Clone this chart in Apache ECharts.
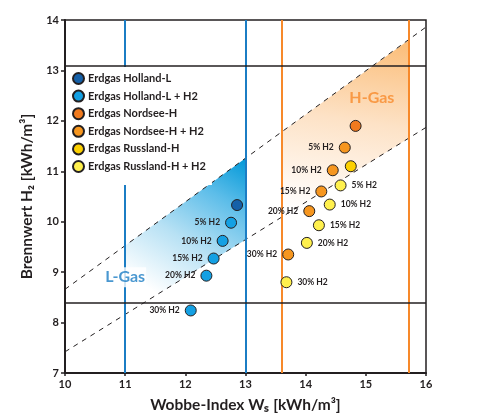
<!DOCTYPE html>
<html><head><meta charset="utf-8">
<script src="https://cdn.jsdelivr.net/npm/echarts@6/dist/echarts.min.js"></script>
<style>html,body{margin:0;padding:0;background:#fff}#c{width:481px;height:414px}</style>
</head><body><div id="c"></div>
<script>
// ---- data ----
var xTicks = [10, 11, 12, 13, 14, 15, 16];
var yTicks = [7, 8, 9, 10, 11, 12, 13, 14];
var h2Labels = ['5% H2', '10% H2', '15% H2', '20% H2', '30% H2'];
var hollandL = [[12.86, 10.33]];
var hollandLH2 = [[12.76, 9.98], [12.62, 9.62], [12.47, 9.27], [12.35, 8.93], [12.09, 8.24]];
var nordseeH = [[14.83, 11.90]];
var nordseeHH2 = [[14.65, 11.47], [14.45, 11.02], [14.26, 10.60], [14.06, 10.21], [13.71, 9.35]];
var russlandH = [[14.75, 11.10]];
var russlandHH2 = [[14.58, 10.72], [14.40, 10.34], [14.22, 9.93], [14.02, 9.58], [13.68, 8.80]];
var d075Line = [[10, 8.66], [16, 13.86]];
var d055Line = [[10, 7.42], [16, 11.87]];
var blueLimits = [11, 13];
var orangeLimits = [13.6, 15.72];
var hLimits = [8.4, 13.1];
var lGasRegion = [[11, 8.16], [13, 9.64], [13, 11.26], [11, 9.53]];
var hGasRegion = [[13.6, 10.09], [15.72, 11.66], [15.72, 13.61], [13.6, 11.78]];
var regionNames = ['L-Gas', 'H-Gas'];
var regionAnchors = [[11.0, 8.9], [15.1, 12.45]];
var seriesNames = ['Erdgas Holland-L', 'Erdgas Holland-L + H2', 'Erdgas Nordsee-H', 'Erdgas Nordsee-H + H2', 'Erdgas Russland-H', 'Erdgas Russland-H + H2'];

var FONT = 'Lato';
var chart = echarts.init(document.getElementById('c'), null, {renderer: 'canvas'});

function regionSeries(poly, dir, stops, z) {
  return {
    type: 'custom', silent: true, z: z, data: [0],
    renderItem: function (params, api) {
      var pts = poly.map(function (p) { return api.coord(p); });
      return {
        type: 'polygon',
        shape: {points: pts},
        style: {fill: new echarts.graphic.LinearGradient(dir[0], dir[1], dir[2], dir[3], stops), stroke: null}
      };
    }
  };
}

function labelled(arr) {
  return arr.map(function (p, i) { return {value: p, name: h2Labels[i]}; });
}

var pointLabel = function (pos) {
  return {show: true, position: pos, distance: 5, formatter: '{b}', fontFamily: FONT, fontWeight: 'bold', fontSize: 8.5, color: '#231f20'};
};

function scatter(name, data, color, label) {
  return {
    name: name, type: 'scatter', z: 6, symbol: 'circle', symbolSize: 11,
    itemStyle: {color: color, borderColor: '#231f20', borderWidth: 1, opacity: 1},
    label: label || {show: false},
    data: data
  };
}

var option = {
  animation: false,
  backgroundColor: '#fff',
  grid: {left: 65, right: 55, top: 20, bottom: 41, outerBoundsMode: 'none', containLabel: false, show: true, borderColor: '#231f20', borderWidth: 1.5, backgroundColor: 'transparent'},
  legend: {
    orient: 'vertical', left: 66, top: 67, z: 8,
    backgroundColor: '#fff', padding: [5, 6, 12, 6],
    itemWidth: 11, itemHeight: 11, itemGap: 4.6, icon: 'circle',
    data: seriesNames,
    textStyle: {fontFamily: FONT, fontWeight: 'bold', fontSize: 11, color: '#231f20', padding: [0, 0, 0, -1]}
  },
  xAxis: {
    type: 'value', min: 10, max: 16, interval: 1,
    name: 'Wobbe-Index Wₛ [kWh/m³]', nameLocation: 'middle', nameGap: 24,
    nameTextStyle: {fontFamily: FONT, fontWeight: 'bold', fontSize: 15.5, color: '#231f20'},
    axisLine: {lineStyle: {color: '#231f20', width: 2}},
    axisTick: {show: true, length: 3, lineStyle: {color: '#231f20', width: 1.5}},
    axisLabel: {fontFamily: FONT, fontWeight: 'bold', fontSize: 11, color: '#231f20', margin: 6,
      formatter: function (v) { return xTicks.indexOf(v) >= 0 ? String(v) : ''; }},
    splitLine: {show: false}
  },
  yAxis: {
    type: 'value', min: 7, max: 14, interval: 1,
    name: 'Brennwert H₂ [kWh/m³]', nameLocation: 'middle', nameGap: 30,
    nameTextStyle: {fontFamily: FONT, fontWeight: 'bold', fontSize: 15.5, color: '#231f20'},
    axisLine: {lineStyle: {color: '#231f20', width: 2}},
    axisTick: {show: true, length: 4, lineStyle: {color: '#231f20', width: 1.5}},
    axisLabel: {fontFamily: FONT, fontWeight: 'bold', fontSize: 11, color: '#231f20', margin: 6,
      formatter: function (v) { return yTicks.indexOf(v) >= 0 ? String(v) : ''; }},
    splitLine: {show: false}
  },
  series: [
    regionSeries(lGasRegion, [1, 0, 0.2, 1], [{offset: 0, color: '#0098d8'}, {offset: 0.25, color: '#5cbde9'}, {offset: 0.55, color: '#b7e1f4'}, {offset: 0.88, color: '#ffffff'}], 1),
    regionSeries(hGasRegion, [0.6, 0, 0.4, 1], [{offset: 0, color: '#fbbf7c'}, {offset: 0.45, color: '#fde2c6'}, {offset: 0.85, color: '#fff8f1'}, {offset: 1, color: '#ffffff'}], 1),
    {
      type: 'line', silent: true, z: 3, symbol: 'none', data: [],
      markLine: {
        silent: true, symbol: 'none', label: {show: false}, animation: false,
        data: blueLimits.map(function (v) { return {xAxis: v, lineStyle: {color: '#1b7dc4', width: 2, type: 'solid'}}; })
          .concat(orangeLimits.map(function (v) { return {xAxis: v, lineStyle: {color: '#f7892a', width: 2, type: 'solid'}}; }))
          .concat(hLimits.map(function (v) { return {yAxis: v, lineStyle: {color: '#231f20', width: 1.5, type: 'solid'}}; }))
      }
    },
    {
      type: 'line', silent: true, z: 4, symbol: 'none', clip: false,
      lineStyle: {color: '#231f20', width: 1, type: [5, 5]},
      data: d075Line.map(function (p, i) { return {value: p, label: {show: i === 1, formatter: 'd=0,75', position: 'right', offset: [0, -7], fontFamily: FONT, fontWeight: 'bold', fontSize: 11.5, color: '#231f20'}}; }),
      label: {show: false}
    },
    {
      type: 'line', silent: true, z: 4, symbol: 'none', clip: false,
      lineStyle: {color: '#231f20', width: 1, type: [5, 5]},
      data: d055Line.map(function (p, i) { return {value: p, label: {show: i === 1, formatter: 'd=0,55', position: 'right', offset: [0, -4], fontFamily: FONT, fontWeight: 'bold', fontSize: 11.5, color: '#231f20'}}; }),
      label: {show: false}
    },
    {
      type: 'scatter', silent: true, z: 5, symbolSize: 0,
      data: regionAnchors.map(function (p, i) {
        return {value: p, name: regionNames[i], label: {show: true, position: 'inside', formatter: '{b}', fontFamily: FONT, fontWeight: 'bold', fontSize: 16, color: i === 0 ? '#1b7dc4' : '#f7892a', backgroundColor: i === 0 ? '#fff' : 'transparent', padding: [2, 1, 2, 1]}};
      })
    },
    scatter(seriesNames[0], hollandL, '#1560a8'),
    scatter(seriesNames[1], labelled(hollandLH2), '#14a0e3', pointLabel('left')),
    scatter(seriesNames[2], nordseeH, '#f07a1e'),
    scatter(seriesNames[3], labelled(nordseeHH2), '#f6961f', pointLabel('left')),
    scatter(seriesNames[4], russlandH, '#fcd000'),
    scatter(seriesNames[5], labelled(russlandHH2), '#fff04d', pointLabel('right'))
  ]
};
chart.setOption(option);
</script>
</body></html>
